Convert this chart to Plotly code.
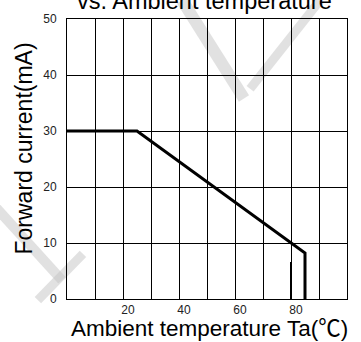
import plotly.graph_objects as go

# Data
temp = [0, 25, 85, 85]
current = [30, 30, 8.2, 0]
marker_x = [80, 80]
marker_y = [0, 6.6]

x_tickvals = [10, 20, 30, 40, 50, 60, 70, 80, 90, 100]
x_ticktext = ["", "20", "", "40", "", "60", "", "80", "", "100"]
y_tickvals = [0, 10, 20, 30, 40, 50]
y_ticktext = ["0", "10", "20", "30", "40", "50"]

title_text = "vs. Ambient temperature"
x_title = "Ambient temperature Ta(℃)"
y_title = "Forward current(mA)"

FONT = "Arial, 'Liberation Sans', 'Noto Sans CJK SC', sans-serif"

fig = go.Figure()
fig.add_trace(go.Scatter(x=temp, y=current, mode="lines",
                         line=dict(color="black", width=3), showlegend=False))
fig.add_trace(go.Scatter(x=marker_x, y=marker_y, mode="lines",
                         line=dict(color="black", width=2), showlegend=False))

fig.update_layout(
    width=361, height=342,
    margin=dict(l=67, r=14, t=14, b=43),
    paper_bgcolor="white", plot_bgcolor="rgba(0,0,0,0)",
    font=dict(family=FONT, color="black"),
    showlegend=False,
)
fig.update_xaxes(range=[0, 100], tickvals=x_tickvals, ticktext=x_ticktext,
                 showgrid=True, gridcolor="black", gridwidth=1,
                 showline=True, linecolor="black", linewidth=1, mirror=True,
                 zeroline=False, ticks="", tickfont=dict(size=12, color="#222"),
                 ticklabelshift=5, ticklabelstandoff=0)
fig.update_yaxes(range=[0, 50], tickvals=y_tickvals, ticktext=y_ticktext,
                 showgrid=True, gridcolor="black", gridwidth=1,
                 showline=True, linecolor="black", linewidth=1, mirror=True,
                 zeroline=False, ticks="", tickfont=dict(size=12, color="#222"),
                 ticklabelstandoff=7)

# faint watermark strokes (decoration, paper coordinates)
wm_color = "rgba(195,195,195,0.5)"
for (x0, y0, x1, y1, w) in [(0.411, 1.067, 0.632, 0.716, 12),
                            (0.904, 1.067, 0.654, 0.751, 9),
                            (-0.257, 0.33, -0.018, 0.067, 10),
                            (0.057, 0.161, -0.104, -0.004, 9)]:
    fig.add_shape(type="line", xref="paper", yref="paper", x0=x0, y0=y0, x1=x1, y1=y1,
                  line=dict(color=wm_color, width=w), layer="below")

fig.add_annotation(text=title_text, xref="paper", yref="paper", x=0.49, y=1,
                   xanchor="center", yanchor="bottom", yshift=3, showarrow=False,
                   font=dict(size=23.5, color="black"))
fig.add_annotation(text=x_title, xref="paper", yref="paper", x=0.51, y=-0.104,
                   xanchor="center", yanchor="middle", showarrow=False,
                   font=dict(size=22.5, color="black"))
fig.add_annotation(text=y_title, xref="paper", yref="paper", x=-0.154, y=0.537,
                   xanchor="center", yanchor="middle", textangle=-90, showarrow=False,
                   font=dict(size=23, color="black"))

fig.write_html("out.html")
